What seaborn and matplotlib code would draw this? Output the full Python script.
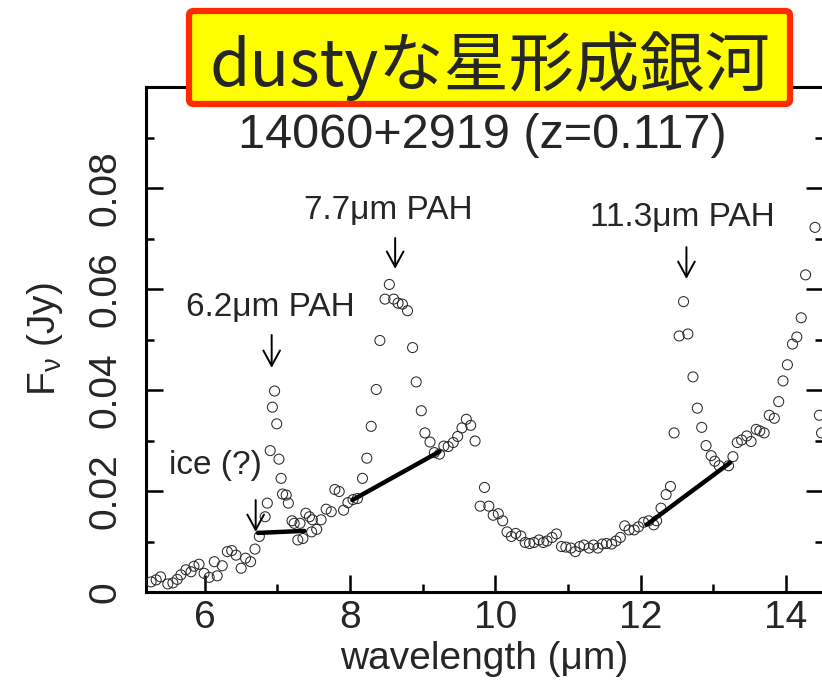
import matplotlib
matplotlib.use("Agg")
import matplotlib.pyplot as plt
import seaborn as sns
import pandas as pd
from matplotlib.patches import FancyBboxPatch
from matplotlib.ticker import MultipleLocator

# IRS low-resolution spectrum of 14060+2919
wavelength = [
    5.26, 5.33, 5.39, 5.49, 5.56, 5.62, 5.67, 5.74, 5.81, 5.85,
    5.92, 5.99, 6.06, 6.13, 6.17, 6.24, 6.31, 6.37, 6.43, 6.50,
    6.56, 6.63, 6.69, 6.75, 6.83, 6.86, 6.90, 6.93, 6.96, 6.99,
    7.02, 7.05, 7.07, 7.12, 7.15, 7.20, 7.23, 7.28, 7.31, 7.35,
    7.39, 7.44, 7.48, 7.47, 7.54, 7.60, 7.67, 7.74, 7.79, 7.85,
    7.91, 7.97, 8.04, 8.10, 8.17, 8.23, 8.29, 8.36, 8.41, 8.48,
    8.54, 8.60, 8.66, 8.72, 8.79, 8.86, 8.91, 8.98, 9.03, 9.10,
    9.16, 9.23, 9.29, 9.35, 9.42, 9.48, 9.54, 9.60, 9.66, 9.72,
    9.79, 9.85, 9.91, 9.97, 10.04, 10.10, 10.16, 10.22, 10.28, 10.35,
    10.41, 10.47, 10.53, 10.60, 10.66, 10.71, 10.78, 10.84, 10.91, 10.97,
    11.04, 11.10, 11.16, 11.22, 11.29, 11.35, 11.41, 11.47, 11.53, 11.60,
    11.66, 11.72, 11.78, 11.84, 11.91, 11.97, 12.04, 12.11, 12.18, 12.22,
    12.28, 12.35, 12.41, 12.46, 12.53, 12.59, 12.65, 12.72, 12.78, 12.84,
    12.90, 12.97, 13.02, 13.08, 13.21, 13.27, 13.33, 13.39, 13.46, 13.52,
    13.59, 13.64, 13.70, 13.77, 13.84, 13.90, 13.96, 14.02, 14.09, 14.15,
    14.21, 14.27, 14.40, 14.46, 14.49,
]
flux = [
    0.0020, 0.0024, 0.0030, 0.0016, 0.0018, 0.0025, 0.0034, 0.0044, 0.0040, 0.0051,
    0.0055, 0.0037, 0.0029, 0.0060, 0.0032, 0.0052, 0.0080, 0.0082, 0.0073, 0.0047,
    0.0067, 0.0060, 0.0085, 0.0110, 0.0149, 0.0176, 0.0280, 0.0366, 0.0398, 0.0333,
    0.0263, 0.0225, 0.0194, 0.0192, 0.0176, 0.0141, 0.0136, 0.0103, 0.0136, 0.0106,
    0.0156, 0.0149, 0.0143, 0.0119, 0.0124, 0.0143, 0.0164, 0.0159, 0.0203, 0.0199,
    0.0162, 0.0177, 0.0183, 0.0185, 0.0225, 0.0265, 0.0328, 0.0401, 0.0498, 0.0580,
    0.0609, 0.0580, 0.0572, 0.0570, 0.0557, 0.0484, 0.0416, 0.0359, 0.0315, 0.0297,
    0.0276, 0.0273, 0.0289, 0.0288, 0.0296, 0.0308, 0.0325, 0.0342, 0.0330, 0.0299,
    0.0170, 0.0207, 0.0170, 0.0152, 0.0155, 0.0141, 0.0119, 0.0110, 0.0116, 0.0111,
    0.0098, 0.0096, 0.0098, 0.0103, 0.0098, 0.0101, 0.0108, 0.0115, 0.0090, 0.0089,
    0.0087, 0.0080, 0.0090, 0.0093, 0.0087, 0.0093, 0.0087, 0.0095, 0.0096, 0.0095,
    0.0101, 0.0108, 0.0131, 0.0123, 0.0123, 0.0129, 0.0138, 0.0141, 0.0133, 0.0141,
    0.0166, 0.0193, 0.0209, 0.0315, 0.0507, 0.0575, 0.0511, 0.0426, 0.0364, 0.0326,
    0.0290, 0.0270, 0.0259, 0.0250, 0.0250, 0.0268, 0.0296, 0.0301, 0.0309, 0.0298,
    0.0322, 0.0319, 0.0315, 0.0350, 0.0344, 0.0377, 0.0418, 0.0450, 0.0491, 0.0505,
    0.0543, 0.0628, 0.0722, 0.0350, 0.0315,
]

# local continuum fits under the features
cont_ice_wave = [6.73, 7.37]
cont_ice_flux = [0.0117, 0.0121]
cont_77_wave = [8.03, 9.23]
cont_77_flux = [0.0182, 0.0278]
cont_113_wave = [12.08, 13.23]
cont_113_flux = [0.0133, 0.0256]

feature_labels = ["6.2μm PAH", "7.7μm PAH", "11.3μm PAH", "ice (?)"]
banner_text = "dustyな星形成銀河"
object_title = "14060+2919 (z=0.117)"
x_ticks = [6, 8, 10, 12, 14]
y_ticks = [0, 0.02, 0.04, 0.06, 0.08]
y_tick_labels = ["0", "0.02", "0.04", "0.06", "0.08"]

sns.set_style("white")
plt.rcParams["font.family"] = ["Liberation Sans", "DejaVu Sans"]
plt.rcParams["mathtext.fontset"] = "custom"
plt.rcParams["mathtext.rm"] = "Liberation Sans"
plt.rcParams["mathtext.it"] = "Liberation Sans"

W, H = 822, 691
fig = plt.figure(figsize=(W / 100, H / 100), dpi=100)
ax = fig.add_axes([146 / W, 1 - 592 / H, (823 - 146) / W, (592 - 87) / H])

spec = pd.DataFrame({"wavelength": wavelength, "flux": flux})
sns.scatterplot(data=spec, x="wavelength", y="flux", ax=ax, marker="o", s=52,
                facecolors="none", edgecolors="#2a2a2a", linewidth=0.75, zorder=3)

for cx, cy in [(cont_ice_wave, cont_ice_flux), (cont_77_wave, cont_77_flux),
               (cont_113_wave, cont_113_flux)]:
    sns.lineplot(x=cx, y=cy, ax=ax, color="black", linewidth=3.2, zorder=4)

ax.set_xlim(5.19, 14.51)
ax.set_ylim(0, 0.1)
ax.set_xticks(x_ticks)
ax.set_xticklabels([str(t) for t in x_ticks])
ax.set_yticks(y_ticks)
ax.set_yticklabels(y_tick_labels)
ax.xaxis.set_minor_locator(MultipleLocator(1))
ax.yaxis.set_minor_locator(MultipleLocator(0.01))
ax.tick_params(which="both", direction="in", bottom=True, left=True, top=True,
               right=True, color="black", width=1.8)
ax.tick_params(which="major", length=12)
ax.tick_params(which="minor", length=6)
ax.tick_params(axis="x", which="major", labelsize=28, pad=6)
ax.tick_params(axis="y", which="major", labelsize=28, pad=16)
for lbl in ax.get_yticklabels():
    lbl.set_rotation(90)
    lbl.set_verticalalignment("center")
for sp in ax.spines.values():
    sp.set_linewidth(2.2)
    sp.set_color("black")

ax.set_xlabel("wavelength (μm)", fontsize=28)
ax.xaxis.set_label_coords(0.5, -0.097)
ax.set_ylabel(r"F$_{\mathrm{\nu}}$ (Jy)", fontsize=28)
ax.yaxis.set_label_coords(-0.149, 0.5)
ax.yaxis.label.set_verticalalignment("center")

# feature labels and pointers
label_pos = [(6.90, 0.0564), (8.52, 0.0756), (12.58, 0.0741), (6.14, 0.0251)]
arrow_tail = [(6.92, 0.0509), (8.62, 0.0701), (12.63, 0.0683), (6.70, 0.0182)]
arrow_tip = [(6.92, 0.0444), (8.62, 0.0640), (12.63, 0.0620), (6.70, 0.0119)]
for text, pos, tail, tip in zip(feature_labels, label_pos, arrow_tail, arrow_tip):
    ax.text(pos[0], pos[1], text, fontsize=24, ha="center", va="center", zorder=5)
    ax.annotate("", xy=tip, xytext=tail,
                arrowprops=dict(arrowstyle="->,head_length=0.55,head_width=0.3",
                                lw=1.4, color="black", shrinkA=0, shrinkB=0,
                                mutation_scale=20), zorder=5)

fig.text(482.5 / W, 1 - 136 / H, object_title, fontsize=35, ha="center", va="center")

banner = FancyBboxPatch((189 / W, 1 - 104 / H), 601 / W, 93 / H,
                        boxstyle="round,pad=0,rounding_size=0.006",
                        transform=fig.transFigure, facecolor="#ffff00",
                        edgecolor="#ff2a00", linewidth=4.5, zorder=10)
fig.patches.append(banner)
fig.text(490 / W, 1 - 66 / H, banner_text, fontsize=47, ha="center", va="center",
         family=["Noto Sans CJK JP", "DejaVu Sans"], zorder=11)

fig.savefig("out.png", dpi=100)
